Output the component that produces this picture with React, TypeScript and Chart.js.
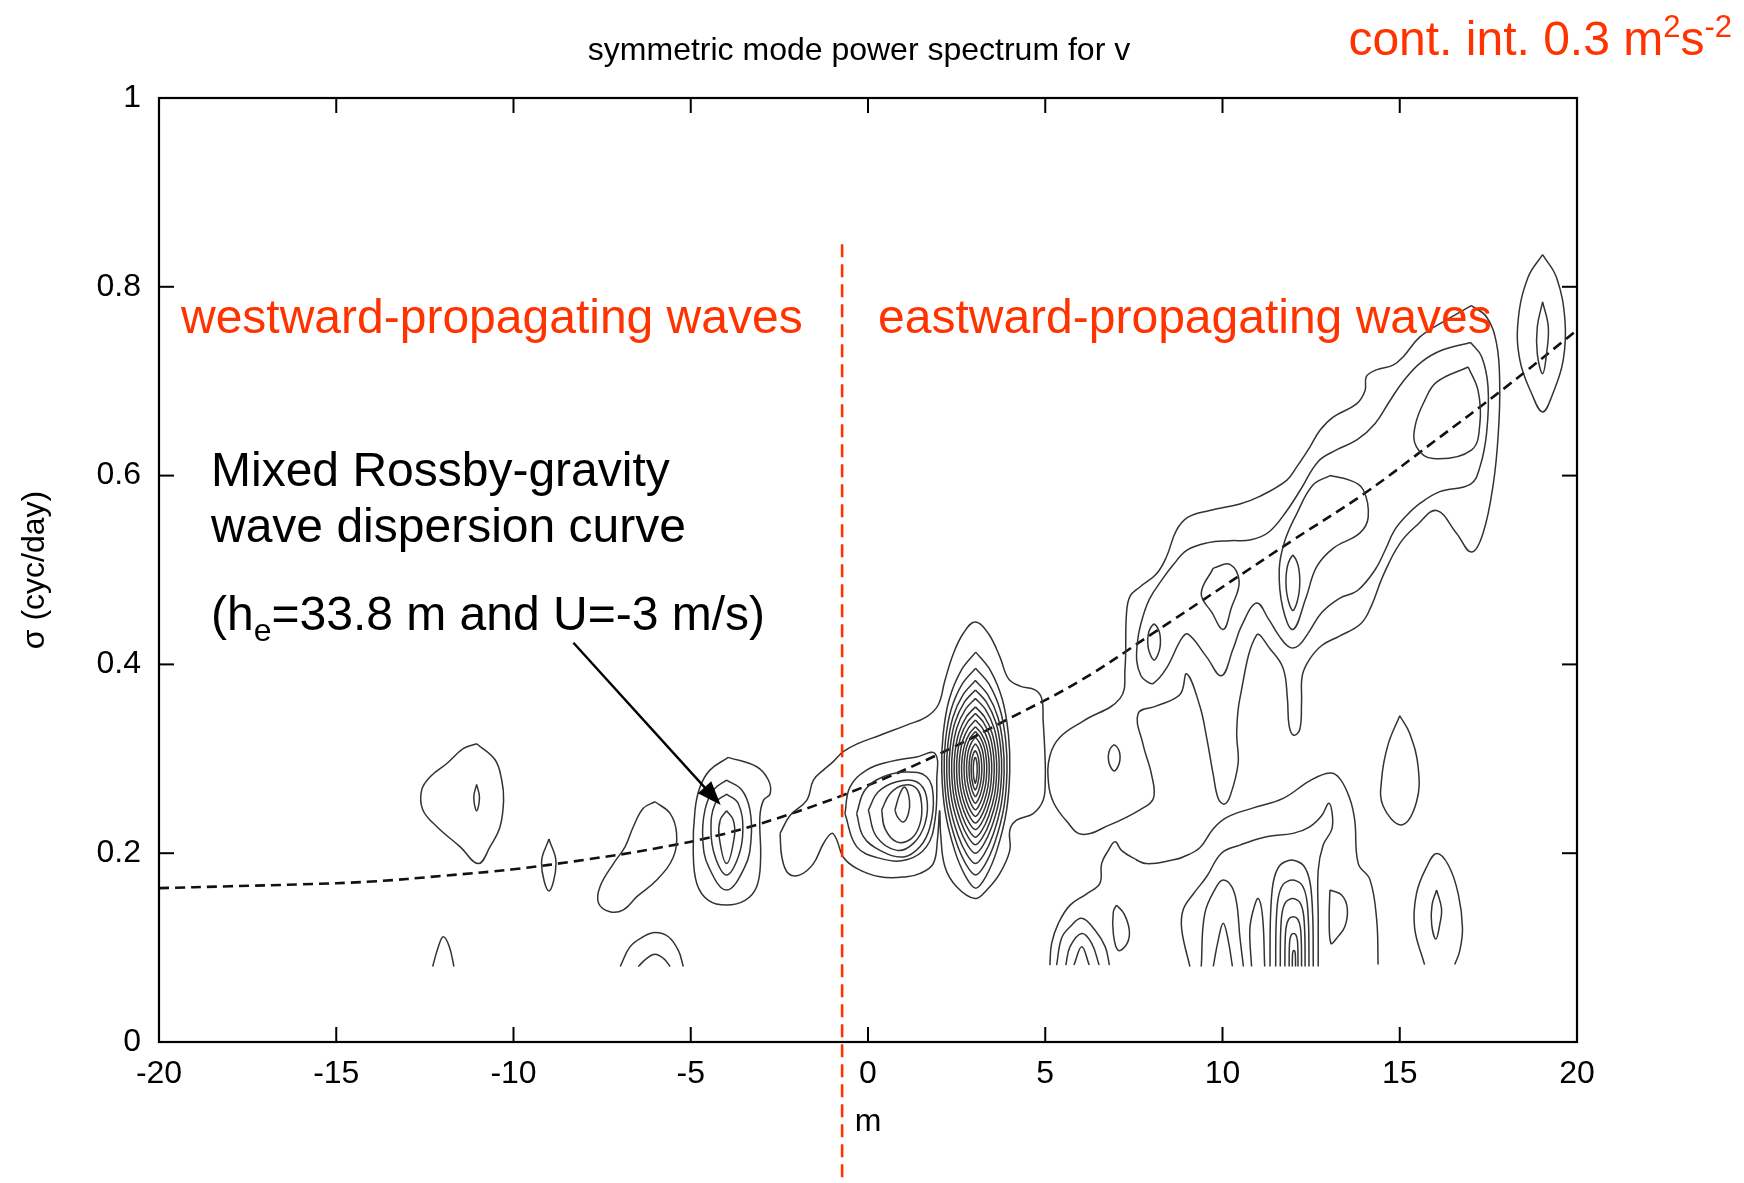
import React, { useEffect, useRef } from 'react';
import { Chart, registerables } from 'chart.js';

Chart.register(...registerables);

const W = 1744;
const H = 1183;
const FONT = "'Liberation Sans', Arial, Helvetica, sans-serif";
const RED = '#ff3300';
const LINE_COLOR = '#333333';

// axes
const X_TICKS = [-20, -15, -10, -5, 0, 5, 10, 15, 20];
const Y_TICKS = [0, 0.2, 0.4, 0.6, 0.8, 1];

// texts
const TITLE = 'symmetric mode power spectrum for v';
const X_LABEL = 'm';
const Y_LABEL = 'σ (cyc/day)';
const WEST_LABEL = 'westward-propagating waves';
const EAST_LABEL = 'eastward-propagating waves';
const MRG_LINES = ['Mixed Rossby-gravity', 'wave dispersion curve'];

// annotation data (m, sigma)
const RED_LINE_M = -0.73;
const RED_LINE_TOP = 0.845;
const ARROW_FROM: [number, number] = [-8.31, 0.423];
const ARROW_TO: [number, number] = [-4.155, 0.251];
const CUT = 0.08;

// MRG dispersion curve
const DISP_M = [-20, -18, -16, -14, -12, -10, -8, -6, -4, -2, 0, 2, 4, 6, 8, 10, 12, 14, 16, 18, 20];
const DISP_S = [0.163, 0.165, 0.167, 0.170, 0.176, 0.183, 0.193, 0.205, 0.221, 0.244, 0.272, 0.305, 0.343, 0.383, 0.432, 0.482, 0.532, 0.581, 0.637, 0.694, 0.754];

type P = [number, number];

// ---- westward side contours ----
const W11_OUTER: P[] = [[-11.04, 0.316], [-10.52, 0.299], [-10.33, 0.277], [-10.28, 0.256], [-10.38, 0.228], [-10.66, 0.207], [-10.99, 0.189], [-11.51, 0.207], [-12.16, 0.228], [-12.56, 0.246], [-12.59, 0.267], [-12.35, 0.281], [-11.88, 0.295], [-11.41, 0.311]];
const W11_INNER: P[] = [[-11.04, 0.273], [-10.96, 0.259], [-11.04, 0.245], [-11.12, 0.259]];
const W9_LENS: P[] = [[-9.0, 0.215], [-8.8, 0.19], [-9.0, 0.160], [-9.21, 0.19]];
const W12_ARCH: P[] = [[-12.28, 0.08], [-12.12, 0.101], [-11.98, 0.1115], [-11.81, 0.101], [-11.68, 0.08]];
const W6_ARCH_OUT: P[] = [[-6.99, 0.08], [-6.71, 0.101], [-6.34, 0.1115], [-6.01, 0.116], [-5.63, 0.1115], [-5.35, 0.097], [-5.21, 0.08]];
const W6_ARCH_IN: P[] = [[-6.48, 0.08], [-6.24, 0.0886], [-6.01, 0.093], [-5.77, 0.0886], [-5.58, 0.08]];
const W6_BLOB: P[] = [[-6.01, 0.2545], [-5.58, 0.242], [-5.40, 0.221], [-5.49, 0.196], [-5.96, 0.1716], [-6.52, 0.154], [-6.90, 0.140], [-7.28, 0.138], [-7.60, 0.147], [-7.56, 0.1645], [-7.18, 0.189], [-6.85, 0.207], [-6.62, 0.228], [-6.34, 0.2475]];
const W4_L1: P[] = [[-3.94, 0.3015], [-3.14, 0.2916], [-2.81, 0.2775], [-2.76, 0.263], [-2.95, 0.256], [-3.05, 0.2386], [-3.03, 0.193], [-3.14, 0.1645], [-3.47, 0.150], [-3.99, 0.145], [-4.50, 0.150], [-4.83, 0.168], [-4.93, 0.203], [-4.88, 0.2457], [-4.74, 0.270], [-4.46, 0.288]];
const W4_L2: P[] = [[-3.99, 0.2775], [-3.56, 0.267], [-3.33, 0.2457], [-3.30, 0.214], [-3.47, 0.186], [-3.99, 0.161], [-4.50, 0.186], [-4.66, 0.214], [-4.60, 0.2457], [-4.36, 0.267]];
const W4_L3: P[] = [[-3.99, 0.2626], [-3.66, 0.2527], [-3.53, 0.2245], [-3.66, 0.196], [-3.99, 0.177], [-4.31, 0.196], [-4.43, 0.2245], [-4.31, 0.2527]];
const W4_L4: P[] = [[-3.99, 0.245], [-3.80, 0.235], [-3.77, 0.2175], [-3.99, 0.189], [-4.20, 0.2175], [-4.17, 0.235]];

// ---- central group (m = -2.5 .. 5) ----
const C0: P[] = [[-2.48, 0.221], [-2.2, 0.24], [-1.73, 0.256], [-1.54, 0.2775], [-1.26, 0.288], [-0.98, 0.297], [-0.70, 0.3075], [-0.32, 0.3156], [0.34, 0.325], [1.09, 0.3357], [1.65, 0.3445], [1.98, 0.357], [2.17, 0.383], [2.41, 0.4116], [2.69, 0.433], [3.02, 0.445], [3.39, 0.433], [3.72, 0.408], [3.96, 0.385], [4.29, 0.377], [4.71, 0.373], [4.90, 0.364], [4.94, 0.341], [4.99, 0.3057], [5.0, 0.2775], [4.94, 0.256], [4.66, 0.242], [4.19, 0.235], [4.00, 0.2245], [4.00, 0.203], [3.72, 0.1786], [3.35, 0.161], [3.02, 0.152], [2.50, 0.1645], [2.17, 0.1857], [2.05, 0.22], [2.02, 0.245], [1.96, 0.215], [1.84, 0.189], [1.47, 0.1786], [1.09, 0.175], [0.34, 0.175], [-0.32, 0.184], [-0.70, 0.196], [-0.88, 0.214], [-1.02, 0.221], [-1.26, 0.210], [-1.54, 0.189], [-1.92, 0.177], [-2.25, 0.1786], [-2.43, 0.196]];
const M1_L1: P[] = [[-0.65, 0.242], [-0.51, 0.270], [-0.04, 0.288], [0.62, 0.297], [1.37, 0.302], [1.89, 0.3057], [1.94, 0.2775], [1.89, 0.235], [1.65, 0.207], [1.09, 0.193], [0.34, 0.1945], [-0.32, 0.207]];
const M1_L2: P[] = [[-0.32, 0.242], [-0.085, 0.267], [0.43, 0.281], [1.09, 0.286], [1.65, 0.281], [1.84, 0.260], [1.75, 0.228], [1.47, 0.207], [1.00, 0.196], [0.34, 0.203], [-0.13, 0.2175]];
const M1_L3: P[] = [[0.01, 0.2457], [0.29, 0.265], [0.81, 0.2757], [1.37, 0.2757], [1.65, 0.260], [1.61, 0.2316], [1.28, 0.2104], [0.81, 0.203], [0.24, 0.2175]];
const M1_L4: P[] = [[0.385, 0.2457], [0.62, 0.263], [1.00, 0.272], [1.37, 0.2686], [1.51, 0.2527], [1.47, 0.2316], [1.23, 0.2157], [0.81, 0.212], [0.48, 0.226]];
const M1_L5: P[] = [[0.76, 0.2457], [0.90, 0.263], [1.04, 0.270], [1.17, 0.256], [1.14, 0.242], [1.00, 0.233], [0.83, 0.2386]];

// m = 3 nested peak: extents of each closed contour
const NEST3_TOP = [0.413, 0.396, 0.383, 0.373, 0.364, 0.355, 0.348, 0.341, 0.334, 0.329, 0.323, 0.316, 0.309, 0.302];
const NEST3_BOTTOM = [0.163, 0.177, 0.189, 0.200, 0.209, 0.217, 0.225, 0.232, 0.239, 0.246, 0.253, 0.260, 0.267, 0.274];
const NEST3_LEFT = [2.08, 2.15, 2.22, 2.29, 2.36, 2.43, 2.50, 2.57, 2.64, 2.71, 2.78, 2.85, 2.91, 2.97];
const NEST3_RIGHT = [4.00, 3.92, 3.84, 3.77, 3.70, 3.63, 3.56, 3.49, 3.42, 3.35, 3.28, 3.21, 3.14, 3.08];

// ---- eastward band ----
const BAND_OUTER: P[] = [[17.02, 0.780], [16.32, 0.765], [15.57, 0.747], [15.10, 0.726], [14.81, 0.717], [14.34, 0.712], [14.06, 0.705], [14.02, 0.690], [13.78, 0.676], [13.12, 0.662], [12.75, 0.648], [12.46, 0.630], [12.09, 0.609], [11.81, 0.595], [11.05, 0.578], [10.49, 0.570], [9.64, 0.563], [9.03, 0.556], [8.70, 0.542], [8.42, 0.514], [8.14, 0.496], [7.67, 0.482], [7.39, 0.472], [7.29, 0.453], [7.25, 0.396], [7.11, 0.364], [6.07, 0.340], [5.42, 0.323], [5.13, 0.303], [5.09, 0.275], [5.23, 0.254], [5.60, 0.234], [6.03, 0.220], [6.82, 0.230], [7.67, 0.246], [8.05, 0.258], [8.00, 0.283], [7.76, 0.315], [7.62, 0.348], [8.14, 0.356], [8.80, 0.368], [8.99, 0.390], [9.36, 0.356], [9.55, 0.323], [9.74, 0.283], [9.88, 0.258], [10.05, 0.252], [10.21, 0.260], [10.44, 0.295], [10.40, 0.327], [10.49, 0.364], [10.96, 0.431], [11.34, 0.4165], [11.71, 0.396], [11.83, 0.364], [11.88, 0.335], [12.01, 0.325], [12.18, 0.331], [12.23, 0.360], [12.25, 0.388], [12.45, 0.405], [12.8, 0.42], [13.3, 0.43], [13.9, 0.443], [14.2, 0.462], [14.53, 0.494], [15.0, 0.528], [15.5, 0.548], [16.04, 0.563], [16.6, 0.539], [17.02, 0.519], [17.35, 0.539], [17.64, 0.5916], [17.78, 0.6446], [17.82, 0.6975], [17.73, 0.740], [17.45, 0.768]];
const BAND_MID: P[] = [[17.0, 0.741], [16.2, 0.733], [15.6, 0.72], [15.1, 0.70], [14.7, 0.678], [14.3, 0.655], [13.8, 0.638], [13.2, 0.627], [12.7, 0.615], [12.2, 0.585], [11.8, 0.562], [11.3, 0.54], [10.8, 0.532], [10.2, 0.531], [9.6, 0.529], [9.0, 0.521], [8.6, 0.505], [8.3, 0.49], [7.95, 0.47], [7.75, 0.45], [7.62, 0.429], [7.58, 0.404], [7.7, 0.388], [7.86, 0.382], [8.05, 0.380], [8.42, 0.396], [8.84, 0.427], [9.03, 0.432], [9.55, 0.408], [9.97, 0.388], [10.30, 0.4165], [10.54, 0.441], [10.96, 0.465], [11.3, 0.448], [11.6, 0.43], [11.9, 0.418], [12.15, 0.42], [12.45, 0.435], [12.8, 0.455], [13.3, 0.47], [13.8, 0.478], [14.3, 0.5], [14.6, 0.522], [14.85, 0.542], [15.2, 0.558], [15.57, 0.5705], [16.13, 0.583], [17.0, 0.591], [17.26, 0.609], [17.45, 0.645], [17.49, 0.694], [17.31, 0.726]];
const BAND_M10_DROP: P[] = [[9.74, 0.502], [10.21, 0.506], [10.47, 0.4875], [10.25, 0.46], [10.02, 0.437], [9.7, 0.455], [9.4, 0.475]];
const BAND_M13_LOOP: P[] = [[13.03, 0.600], [13.6, 0.595], [13.97, 0.585], [14.11, 0.556], [13.87, 0.539], [13.12, 0.523], [12.65, 0.503], [12.35, 0.47], [11.99, 0.437], [11.7, 0.46], [11.6, 0.5], [11.75, 0.53], [12.1, 0.56], [12.55, 0.59]];
const BAND_M16_LOOP: P[] = [[16.93, 0.715], [17.21, 0.690], [17.26, 0.655], [17.02, 0.627], [15.94, 0.618], [15.47, 0.6305], [15.43, 0.652], [15.71, 0.680], [16.04, 0.699]];
const M19_OUTER: P[] = [[19.03, 0.834], [19.42, 0.810], [19.66, 0.7646], [19.61, 0.722], [19.32, 0.687], [19.03, 0.6675], [18.72, 0.687], [18.39, 0.722], [18.34, 0.7646], [18.62, 0.810]];
const M19_INNER: P[] = [[19.03, 0.784], [19.19, 0.7575], [19.14, 0.729], [19.03, 0.708], [18.88, 0.729], [18.88, 0.7575]];
// small closed ellipses: [left, right, bottom, top]
const SMALL_LOOPS = [
  [6.78, 7.11, 0.287, 0.315],
  [7.89, 8.25, 0.4045, 0.443],
  [11.79, 12.18, 0.457, 0.516],
];

// ---- lower eastward region ----
const LOW_OUTER: P[] = [[5.13, 0.0815], [5.18, 0.1045], [5.37, 0.1257], [5.70, 0.145], [6.17, 0.157], [6.54, 0.168], [6.59, 0.189], [6.78, 0.203], [6.97, 0.212], [7.15, 0.203], [7.48, 0.195], [7.86, 0.189], [8.62, 0.193], [8.89, 0.196], [9.36, 0.2057], [9.74, 0.226], [10.12, 0.238], [10.87, 0.248], [11.71, 0.258], [12.46, 0.2767], [13.03, 0.285], [13.31, 0.279], [13.59, 0.258], [13.73, 0.235], [13.83, 0.189], [14.16, 0.172], [14.35, 0.129], [14.39, 0.082]];
const LOW_MID: P[] = [[9.08, 0.08], [8.85, 0.119], [8.89, 0.14], [9.18, 0.157], [9.55, 0.175], [9.97, 0.2], [10.49, 0.2086], [11.24, 0.2175], [11.99, 0.221], [12.46, 0.228], [12.8, 0.24], [13.0, 0.253], [13.1, 0.24], [13.08, 0.225], [12.84, 0.2086], [12.70, 0.182], [12.70, 0.13], [12.70, 0.08]];
const ARCH_M10_OUT: P[] = [[9.40, 0.08], [9.50, 0.136], [9.83, 0.1645], [10.02, 0.1716], [10.26, 0.1645], [10.40, 0.147], [10.49, 0.1115], [10.59, 0.08]];
const ARCH_M10_IN: P[] = [[9.74, 0.08], [9.88, 0.108], [10.02, 0.1257], [10.16, 0.108], [10.28, 0.08]];
const ARCH_M11: P[] = [[10.82, 0.08], [10.77, 0.1186], [10.87, 0.14], [11.01, 0.152], [11.13, 0.1327], [11.19, 0.08]];
const LOOP_M13: P[] = [[13.03, 0.161], [13.36, 0.1557], [13.52, 0.1416], [13.45, 0.122], [13.22, 0.11], [13.06, 0.1045], [13.01, 0.129]];
const ARCH_M6_1: P[] = [[5.32, 0.0815], [5.46, 0.11], [5.70, 0.122], [6.03, 0.131], [6.40, 0.1186], [6.69, 0.101], [6.81, 0.0815]];
const ARCH_M6_2: P[] = [[5.58, 0.0815], [5.70, 0.101], [6.03, 0.115], [6.31, 0.1045], [6.52, 0.0815]];
const ARCH_M6_3: P[] = [[5.81, 0.0815], [6.03, 0.101], [6.24, 0.0815]];
const LOOP_M7: P[] = [[7.01, 0.145], [7.22, 0.136], [7.37, 0.1186], [7.31, 0.1045], [7.06, 0.097], [6.92, 0.115], [6.92, 0.138]];
const DROP_M15: P[] = [[15.0, 0.3456], [15.28, 0.327], [15.52, 0.291], [15.47, 0.254], [15.05, 0.230], [14.53, 0.250], [14.49, 0.279], [14.67, 0.315]];
const ARCH_M16: P[] = [[15.70, 0.082], [15.42, 0.1206], [15.47, 0.157], [15.76, 0.1855], [16.04, 0.1997], [16.37, 0.1875], [16.65, 0.157], [16.77, 0.1206], [16.69, 0.0963], [16.55, 0.082]];
const LOOP_M16: P[] = [[16.04, 0.161], [16.18, 0.141], [16.13, 0.1247], [16.02, 0.109], [15.90, 0.1247], [15.91, 0.145]];
// dense arches near m = 12 (open at the cut-off)
const ARCH12_APEX = [0.1927, 0.1716, 0.152, 0.1327, 0.115, 0.097];
const ARCH12_LEFT = [11.34, 11.50, 11.63, 11.76, 11.88, 11.97];
const ARCH12_RIGHT = [12.56, 12.44, 12.33, 12.23, 12.13, 12.06];

// shape templates
const LENS_U = [0, 0.42, 0.78, 0.96, 1, 0.9, 0.62, 0.3, 0, -0.3, -0.62, -0.9, -1, -0.96, -0.78, -0.42, 0];
const LENS_V = [1, 0.85, 0.6, 0.3, 0, -0.35, -0.68, -0.9, -1, -0.9, -0.68, -0.35, 0, 0.3, 0.6, 0.85, 1];
const ARCH_U = [-1, -0.98, -0.86, -0.55, 0, 0.55, 0.86, 0.98, 1];
const ARCH_V = [0, 0.45, 0.78, 0.95, 1, 0.95, 0.78, 0.45, 0];

const CLOSED: P[][] = [W11_OUTER, W11_INNER, W9_LENS, W6_BLOB, W4_L1, W4_L2, W4_L3, W4_L4, C0, M1_L1, M1_L2, M1_L3, M1_L4, M1_L5, BAND_OUTER, BAND_MID, BAND_M10_DROP, BAND_M13_LOOP, BAND_M16_LOOP, M19_OUTER, M19_INNER, LOOP_M13, LOOP_M7, DROP_M15, LOOP_M16];
const OPEN: P[][] = [W12_ARCH, W6_ARCH_OUT, W6_ARCH_IN, LOW_OUTER, LOW_MID, ARCH_M10_OUT, ARCH_M10_IN, ARCH_M11, ARCH_M6_1, ARCH_M6_2, ARCH_M6_3, ARCH_M16];

const toPts = (arr: P[]) => arr.map(([m, s]) => ({ x: m, y: s }));

function lens(left: number, right: number, bottom: number, top: number) {
  const c = (left + right) / 2;
  return LENS_U.map((u, i) => ({ x: c + (u * (right - left)) / 2, y: bottom + ((LENS_V[i] + 1) / 2) * (top - bottom) }));
}
function arch(left: number, right: number, apex: number) {
  const c = (left + right) / 2;
  return ARCH_U.map((u, i) => ({ x: c + (u * (right - left)) / 2, y: CUT + ARCH_V[i] * (apex - CUT) }));
}

function contourDs(data: { x: number; y: number }[], tension = 0.4) {
  return {
    type: 'scatter' as const,
    data,
    showLine: true,
    borderColor: LINE_COLOR,
    borderWidth: 1.5,
    pointRadius: 0,
    pointHoverRadius: 0,
    tension,
    fill: false,
  };
}

function line(ctx: CanvasRenderingContext2D, x1: number, y1: number, x2: number, y2: number) {
  ctx.beginPath();
  ctx.moveTo(x1, y1);
  ctx.lineTo(x2, y2);
  ctx.stroke();
}

const overlayPlugin = {
  id: 'overlay',
  afterDatasetsDraw(chart: any) {
    const { ctx, chartArea: ca, scales } = chart;
    const xs = scales.x;
    const ys = scales.y;
    ctx.save();
    // frame
    ctx.strokeStyle = '#000';
    ctx.lineWidth = 2.2;
    ctx.setLineDash([]);
    ctx.strokeRect(ca.left, ca.top, ca.right - ca.left, ca.bottom - ca.top);
    // inward ticks on all sides
    ctx.lineWidth = 2;
    const TL = 15;
    X_TICKS.forEach((v) => {
      const px = xs.getPixelForValue(v);
      line(ctx, px, ca.bottom, px, ca.bottom - TL);
      line(ctx, px, ca.top, px, ca.top + TL);
    });
    Y_TICKS.forEach((v) => {
      const py = ys.getPixelForValue(v);
      line(ctx, ca.left, py, ca.left + TL, py);
      line(ctx, ca.right, py, ca.right - TL, py);
    });

    // red dashed divider
    ctx.strokeStyle = RED;
    ctx.lineWidth = 2.6;
    ctx.setLineDash([13, 7]);
    const rx = xs.getPixelForValue(RED_LINE_M);
    line(ctx, rx, ys.getPixelForValue(RED_LINE_TOP), rx, chart.height);
    ctx.setLineDash([]);

    // arrow
    const ax1 = xs.getPixelForValue(ARROW_FROM[0]);
    const ay1 = ys.getPixelForValue(ARROW_FROM[1]);
    const ax2 = xs.getPixelForValue(ARROW_TO[0]);
    const ay2 = ys.getPixelForValue(ARROW_TO[1]);
    const ang = Math.atan2(ay2 - ay1, ax2 - ax1);
    const HL = 24;
    const HW = 9;
    ctx.strokeStyle = '#000';
    ctx.fillStyle = '#000';
    ctx.lineWidth = 2.4;
    line(ctx, ax1, ay1, ax2 - Math.cos(ang) * HL * 0.8, ay2 - Math.sin(ang) * HL * 0.8);
    ctx.beginPath();
    ctx.moveTo(ax2, ay2);
    ctx.lineTo(ax2 - Math.cos(ang) * HL - Math.sin(ang) * HW, ay2 - Math.sin(ang) * HL + Math.cos(ang) * HW);
    ctx.lineTo(ax2 - Math.cos(ang) * HL + Math.sin(ang) * HW, ay2 - Math.sin(ang) * HL - Math.cos(ang) * HW);
    ctx.closePath();
    ctx.fill();

    // title & axis labels
    ctx.fillStyle = '#000';
    ctx.font = `32px ${FONT}`;
    ctx.textAlign = 'center';
    ctx.textBaseline = 'alphabetic';
    ctx.fillText(TITLE, (ca.left + ca.right) / 2 - 9, 60);
    ctx.fillText(X_LABEL, (ca.left + ca.right) / 2, 1131);
    ctx.save();
    ctx.translate(44, (ca.top + ca.bottom) / 2);
    ctx.rotate(-Math.PI / 2);
    ctx.fillText(Y_LABEL, 0, 0);
    ctx.restore();

    // red region labels
    ctx.textAlign = 'left';
    ctx.fillStyle = RED;
    ctx.font = `48px ${FONT}`;
    ctx.fillText(WEST_LABEL, 181, 333);
    ctx.fillText(EAST_LABEL, 878, 333);

    // contour interval note
    const big = 48;
    const small = 31;
    ctx.font = `${big}px ${FONT}`;
    const t1 = 'cont. int. 0.3 m';
    const w1 = ctx.measureText(t1).width;
    const w3 = ctx.measureText('s').width;
    ctx.font = `${small}px ${FONT}`;
    const w2 = ctx.measureText('2').width;
    const w4 = ctx.measureText('-2').width;
    let cx = 1732 - (w1 + w2 + w3 + w4);
    const by = 55;
    ctx.font = `${big}px ${FONT}`;
    ctx.fillText(t1, cx, by);
    cx += w1;
    ctx.font = `${small}px ${FONT}`;
    ctx.fillText('2', cx, by - 18);
    cx += w2;
    ctx.font = `${big}px ${FONT}`;
    ctx.fillText('s', cx, by);
    cx += w3;
    ctx.font = `${small}px ${FONT}`;
    ctx.fillText('-2', cx, by - 18);

    // MRG annotation
    ctx.fillStyle = '#000';
    ctx.font = `48px ${FONT}`;
    ctx.fillText(MRG_LINES[0], 211, 486);
    ctx.fillText(MRG_LINES[1], 211, 542);
    let mx = 211;
    const my = 630;
    ctx.fillText('(h', mx, my);
    mx += ctx.measureText('(h').width;
    ctx.font = `32px ${FONT}`;
    ctx.fillText('e', mx, my + 11);
    mx += ctx.measureText('e').width;
    ctx.font = `48px ${FONT}`;
    ctx.fillText('=33.8 m and U=-3 m/s)', mx, my);
    ctx.restore();
  },
};

const fmtTick = (v: any) => String(Number(Number(v).toFixed(2)));

export default function App() {
  const ref = useRef<HTMLCanvasElement | null>(null);
  useEffect(() => {
    if (!ref.current) return;
    const datasets: any[] = [];
    CLOSED.forEach((c) => datasets.push(contourDs(toPts([...c, c[0]]))));
    OPEN.forEach((c) => datasets.push(contourDs(toPts(c))));
    NEST3_TOP.forEach((t, i) => datasets.push(contourDs(lens(NEST3_LEFT[i], NEST3_RIGHT[i], NEST3_BOTTOM[i], t), 0.3)));
    SMALL_LOOPS.forEach(([l, r, b, t]) => datasets.push(contourDs(lens(l, r, b, t), 0.3)));
    ARCH12_APEX.forEach((a, i) => datasets.push(contourDs(arch(ARCH12_LEFT[i], ARCH12_RIGHT[i], a), 0.3)));
    datasets.push({
      type: 'scatter',
      data: DISP_M.map((m, i) => ({ x: m, y: DISP_S[i] })),
      showLine: true,
      borderColor: '#111',
      borderWidth: 2.6,
      borderDash: [10, 6],
      pointRadius: 0,
      tension: 0.4,
      fill: false,
    });

    const chart = new Chart(ref.current, {
      type: 'scatter',
      data: { datasets },
      options: {
        responsive: false,
        animation: false,
        events: [],
        layout: { padding: { left: 0, top: 98, right: 167, bottom: 0 } },
        plugins: { legend: { display: false }, tooltip: { enabled: false }, title: { display: false } },
        scales: {
          x: {
            type: 'linear',
            min: -20,
            max: 20,
            ticks: { stepSize: 5, color: '#000', font: { family: FONT, size: 32 }, padding: 13, maxRotation: 0, callback: fmtTick },
            grid: { display: false, drawTicks: false },
            border: { display: false },
            afterFit: (s: any) => {
              s.height = 141;
            },
          },
          y: {
            type: 'linear',
            min: 0,
            max: 1,
            ticks: { stepSize: 0.2, color: '#000', font: { family: FONT, size: 32 }, padding: 18, callback: fmtTick },
            grid: { display: false, drawTicks: false },
            border: { display: false },
            afterFit: (s: any) => {
              s.width = 159;
            },
          },
        },
      },
      plugins: [overlayPlugin],
    } as any);
    return () => chart.destroy();
  }, []);
  return (
    <div style={{ position: 'fixed', left: 0, top: 0, width: W, height: H, background: '#fff' }}>
      <canvas ref={ref} width={W} height={H} style={{ display: 'block' }} />
    </div>
  );
}
